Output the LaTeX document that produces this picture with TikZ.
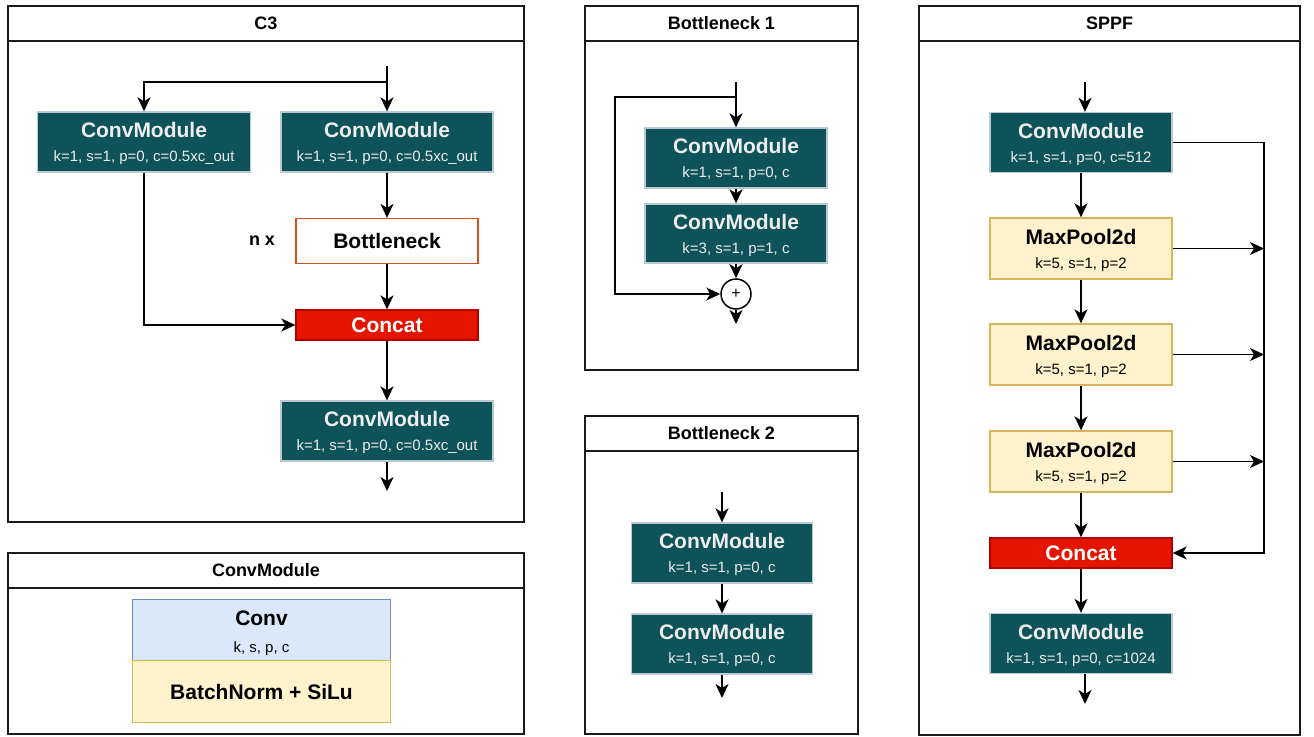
\documentclass[tikz,border=0pt]{standalone}
\usepackage{fontspec}
\setmainfont{Liberation Sans}
\usetikzlibrary{arrows.meta}
\definecolor{cmteal}{HTML}{0E5359}
\definecolor{cmborder}{HTML}{BAC8D3}
\definecolor{cmtext}{HTML}{EEEEEE}
\definecolor{catfill}{HTML}{E51400}
\definecolor{catborder}{HTML}{B20000}
\definecolor{ylfill}{HTML}{FFF2CC}
\definecolor{ylborder}{HTML}{D6B656}
\definecolor{blfill}{HTML}{DAE8FC}
\definecolor{blborder}{HTML}{6C8EBF}
\definecolor{bnborder}{HTML}{D4501E}
\definecolor{framecol}{HTML}{1A1A1A}
\newcommand\cmtxt[2]{{\fontsize{21}{24}\selectfont\bfseries\rule{0pt}{19pt}#1}\\{#2}}
\begin{document}
\begin{tikzpicture}[x=1pt,y=-1pt,
  frame/.style={draw=framecol, line width=1.7pt},
  ttl/.style={font=\fontsize{18}{18}\selectfont\bfseries, text=black},
  cmbox/.style={draw=cmborder, fill=cmteal, line width=1.3pt, text=cmtext, align=center, inner sep=0pt, font=\fontsize{15}{24}\selectfont},
  mpbox/.style={draw=ylborder, fill=ylfill, line width=1.3pt, text=black, align=center, inner sep=0pt, font=\fontsize{15}{24}\selectfont},
  catbox/.style={draw=catborder, fill=catfill, line width=1.3pt, text=white, inner sep=0pt, font=\fontsize{21}{24}\selectfont\bfseries},
  bnbox/.style={draw=bnborder, fill=white, line width=1.3pt, text=black, inner sep=0pt, font=\fontsize{21}{24}\selectfont\bfseries},
  arr/.style={-{Stealth[length=14pt,width=13pt,inset=4pt]}, line width=1.7pt},
  plain/.style={line width=1.7pt}
]
\useasboundingbox (0,0) rectangle (1314,736);

% ---------------- C3 ----------------
\draw[frame] (8,6) rectangle (524,522);
\draw[frame] (8,41) -- (524,41);
\node[ttl] (t1) at (266,23.5) {C3};
\node[cmbox, minimum width=213pt, minimum height=60pt] (c3a) at (144,142) {\cmtxt{ConvModule}{k=1, s=1, p=0, c=0.5xc\_out}};
\node[cmbox, minimum width=212pt, minimum height=60pt] (c3b) at (387,142) {\cmtxt{ConvModule}{k=1, s=1, p=0, c=0.5xc\_out}};
\node[bnbox, minimum width=182pt, minimum height=45pt] (c3bn) at (387,241) {Bottleneck};
\node[catbox, minimum width=182pt, minimum height=30pt] (c3cat) at (387,325) {Concat};
\node[cmbox, minimum width=212pt, minimum height=60pt] (c3c) at (387,431) {\cmtxt{ConvModule}{k=1, s=1, p=0, c=0.5xc\_out}};
\node[font=\fontsize{18}{18}\selectfont\bfseries] (nx) at (262,241) {n x};
\coordinate (c3in) at (387,66);
\coordinate (c3split) at (387,82);
\coordinate (c3out) at (387,491);
\draw[arr] (c3in) -- (c3b.north);
\draw[arr] (c3split) -| (c3a.north);
\draw[arr] (c3b) -- (c3bn);
\draw[arr] (c3bn) -- (c3cat);
\draw[arr] (c3a.south) |- (c3cat.west);
\draw[arr] (c3cat) -- (c3c);
\draw[arr] (c3c) -- (c3out);

% ---------------- Bottleneck 1 ----------------
\draw[frame] (585,6) rectangle (858,370);
\draw[frame] (585,41) -- (858,41);
\node[ttl] (t2) at (721.5,23.5) {Bottleneck 1};
\node[cmbox, minimum width=182pt, minimum height=60pt] (b1a) at (736,158) {\cmtxt{ConvModule}{k=1, s=1, p=0, c}};
\node[cmbox, minimum width=182pt, minimum height=59pt] (b1b) at (736,233.5) {\cmtxt{ConvModule}{k=3, s=1, p=1, c}};
\node[draw, circle, fill=white, line width=1.5pt, minimum size=30pt, inner sep=0pt, font=\fontsize{16}{16}\selectfont] (b1add) at (736,294) {+};
\coordinate (b1in) at (736,82);
\coordinate (b1split) at (736,97);
\coordinate (b1corner) at (615,97);
\coordinate (b1out) at (736,324);
\draw[arr] (b1in) -- (b1a.north);
\draw[arr] (b1split) -- (b1corner) |- (b1add.west);
\draw[arr] (b1a) -- (b1b);
\draw[arr] (b1b) -- (b1add);
\draw[arr] (b1add) -- (b1out);

% ---------------- Bottleneck 2 ----------------
\draw[frame] (585,416) rectangle (858,734);
\draw[frame] (585,451) -- (858,451);
\node[ttl] (t3) at (721.5,433.5) {Bottleneck 2};
\node[cmbox, minimum width=181pt, minimum height=60pt] (b2a) at (722,553) {\cmtxt{ConvModule}{k=1, s=1, p=0, c}};
\node[cmbox, minimum width=181pt, minimum height=60pt] (b2b) at (722,644) {\cmtxt{ConvModule}{k=1, s=1, p=0, c}};
\coordinate (b2in) at (722,492);
\coordinate (b2out) at (722,698);
\draw[arr] (b2in) -- (b2a.north);
\draw[arr] (b2a) -- (b2b);
\draw[arr] (b2b) -- (b2out);

% ---------------- SPPF ----------------
\draw[frame] (919,6) rectangle (1300,735);
\draw[frame] (919,41) -- (1300,41);
\node[ttl] (t4) at (1109.5,23.5) {SPPF};
\node[cmbox, minimum width=182pt, minimum height=60pt] (sa) at (1081,142.5) {\cmtxt{ConvModule}{k=1, s=1, p=0, c=512}};
\node[mpbox, minimum width=182pt, minimum height=61pt] (sm1) at (1081,248.5) {\cmtxt{MaxPool2d}{k=5, s=1, p=2}};
\node[mpbox, minimum width=182pt, minimum height=61pt] (sm2) at (1081,354.5) {\cmtxt{MaxPool2d}{k=5, s=1, p=2}};
\node[mpbox, minimum width=182pt, minimum height=61pt] (sm3) at (1081,461.5) {\cmtxt{MaxPool2d}{k=5, s=1, p=2}};
\node[catbox, minimum width=182pt, minimum height=30pt] (scat) at (1081,553) {Concat};
\node[cmbox, minimum width=182pt, minimum height=60pt] (sb) at (1081,643.5) {\cmtxt{ConvModule}{k=1, s=1, p=0, c=1024}};
\coordinate (sin) at (1085,82);
\coordinate (sout) at (1085,704);
\coordinate (sbus) at (1264,553);
\draw[arr] (sin) -- (sin |- sa.north);
\draw[arr] (sa) -- (sm1);
\draw[arr] (sm1) -- (sm2);
\draw[arr] (sm2) -- (sm3);
\draw[arr] (sm3) -- (scat);
\draw[arr] (scat) -- (sb);
\draw[arr] (sout |- sb.south) -- (sout);
\draw[arr] (sa.east) -| (sbus) -- (scat.east);
\draw[arr] (sm1.east) -- (sm1.east -| sbus);
\draw[arr] (sm2.east) -- (sm2.east -| sbus);
\draw[arr] (sm3.east) -- (sm3.east -| sbus);

% ---------------- ConvModule legend ----------------
\draw[frame] (8,553) rectangle (524,734);
\draw[frame] (8,588) -- (524,588);
\node[ttl] (t5) at (266,570.5) {ConvModule};
\node[draw=blborder, fill=blfill, line width=1.3pt, minimum width=258pt, minimum height=61.5pt, inner sep=0pt, align=center, font=\fontsize{15}{27}\selectfont] (lconv) at (261.5,630) {{\fontsize{21}{27}\selectfont\bfseries\rule{0pt}{22pt}Conv}\\k, s, p, c};
\node[draw=ylborder, fill=ylfill, line width=1.3pt, minimum width=258pt, minimum height=61.5pt, inner sep=0pt, font=\fontsize{21}{24}\selectfont\bfseries] (lbn) at (261.5,691.5) {BatchNorm + SiLu};
\end{tikzpicture}
\end{document}
